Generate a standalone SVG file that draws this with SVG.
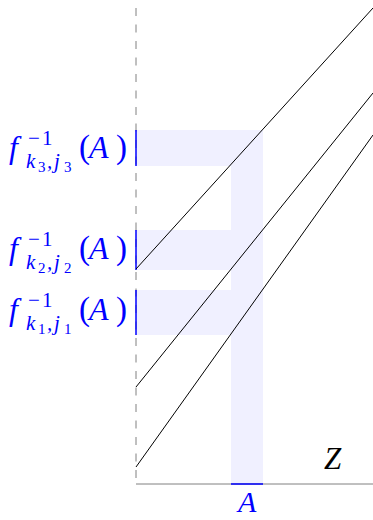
<svg xmlns="http://www.w3.org/2000/svg" width="373" height="520" viewBox="0 0 373 520">
<style>
.shade{fill:#f0f0ff;stroke:none}
.axis{stroke:#808080;stroke-width:1;fill:none}
.dash{stroke:#808080;stroke-width:1;stroke-dasharray:8 8.5;fill:none}
.curve{stroke:#000;stroke-width:1;fill:none}
.mark{stroke:#0000ff;stroke-width:1.5;fill:none}
.lbl{font-family:"Liberation Serif",serif;font-style:italic;fill:#0000ff}
.up{font-style:normal}
.z{font-family:"Liberation Serif",serif;font-style:italic;fill:#000}
</style>
<g id="shading">
<rect class="shade" x="231" y="130" width="32" height="354"/>
<rect class="shade" x="136" y="130" width="127" height="36"/>
<rect class="shade" x="136" y="230" width="95" height="40"/>
<rect class="shade" x="136" y="290" width="95" height="45"/>
</g>
<g id="axes">
<line class="dash" x1="136" y1="8" x2="136" y2="484"/>
<line class="axis" x1="136" y1="484" x2="373" y2="484"/>
<line class="mark" x1="231" y1="484" x2="263" y2="484"/>
<line class="mark" x1="136" y1="130" x2="136" y2="166"/>
<line class="mark" x1="136" y1="230" x2="136" y2="270"/>
<line class="mark" x1="136" y1="290" x2="136" y2="335"/>
</g>
<g id="connectors">
<line class="curve" x1="136" y1="269" x2="373" y2="8"/>
<line class="curve" x1="136" y1="387" x2="373" y2="93"/>
<line class="curve" x1="136" y1="467" x2="373" y2="135"/>
</g>
<g id="label-k3">
<text class="lbl" font-size="32"><tspan x="9" y="158">f</tspan><tspan class="up" x="28" y="145" font-size="21">−</tspan><tspan class="up" x="42" y="145" font-size="21">1</tspan><tspan x="26" y="168" font-size="21">k</tspan><tspan class="up" x="38" y="172" font-size="15">3</tspan><tspan x="47" y="168" font-size="21">,</tspan><tspan x="54" y="168" font-size="21">j</tspan><tspan class="up" x="64" y="172" font-size="15">3</tspan><tspan class="up" x="79" y="158" font-size="33">(</tspan><tspan x="89" y="158">A</tspan><tspan class="up" x="116" y="158" font-size="33">)</tspan></text>
</g>
<g id="label-k2">
<text class="lbl" font-size="32"><tspan x="9" y="259">f</tspan><tspan class="up" x="28" y="246" font-size="21">−</tspan><tspan class="up" x="42" y="246" font-size="21">1</tspan><tspan x="26" y="269" font-size="21">k</tspan><tspan class="up" x="38" y="273" font-size="15">2</tspan><tspan x="47" y="269" font-size="21">,</tspan><tspan x="54" y="269" font-size="21">j</tspan><tspan class="up" x="64" y="273" font-size="15">2</tspan><tspan class="up" x="79" y="259" font-size="33">(</tspan><tspan x="89" y="259">A</tspan><tspan class="up" x="116" y="259" font-size="33">)</tspan></text>
</g>
<g id="label-k1">
<text class="lbl" font-size="32"><tspan x="9" y="320">f</tspan><tspan class="up" x="28" y="307" font-size="21">−</tspan><tspan class="up" x="42" y="307" font-size="21">1</tspan><tspan x="26" y="330" font-size="21">k</tspan><tspan class="up" x="38" y="334" font-size="15">1</tspan><tspan x="47" y="330" font-size="21">,</tspan><tspan x="54" y="330" font-size="21">j</tspan><tspan class="up" x="64" y="334" font-size="15">1</tspan><tspan class="up" x="79" y="320" font-size="33">(</tspan><tspan x="89" y="320">A</tspan><tspan class="up" x="116" y="320" font-size="33">)</tspan></text>
</g>
<g id="label-Z">
<text x="324" y="469" class="z" font-size="31">Z</text>
</g>
<g id="label-A">
<text x="238" y="512" class="lbl" font-size="30">A</text>
</g>
</svg>
